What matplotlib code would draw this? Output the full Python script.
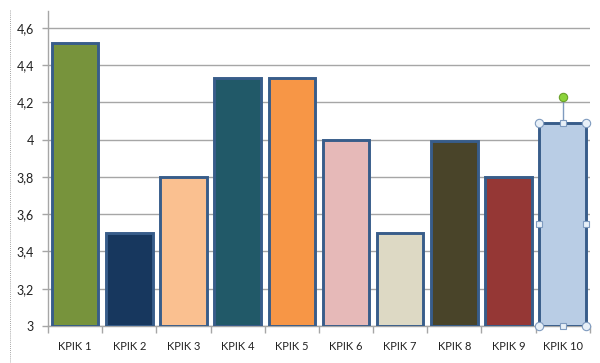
import matplotlib
matplotlib.use("Agg")
import matplotlib.pyplot as plt
from matplotlib.lines import Line2D
import numpy as np

categories = ["KPIK 1", "KPIK 2", "KPIK 3", "KPIK 4", "KPIK 5",
              "KPIK 6", "KPIK 7", "KPIK 8", "KPIK 9", "KPIK 10"]
values = [4.52, 3.5, 3.8, 4.33, 4.33, 4.0, 3.5, 3.99, 3.8, 4.09]
colors = ["#77933C", "#17375E", "#FAC090", "#215968", "#F79646",
          "#E6B9B8", "#DDD9C4", "#494429", "#953735", "#B9CDE5"]
yticks = [3, 3.2, 3.4, 3.6, 3.8, 4, 4.2, 4.4, 4.6]
ytick_labels = ["3", "3,2", "3,4", "3,6", "3,8", "4", "4,2", "4,4", "4,6"]

plt.rcParams['font.family'] = ['Lato', 'DejaVu Sans']

fig = plt.figure(figsize=(6, 3.63), dpi=100)
ax = fig.add_axes([0.08, 0.102, 0.903, 0.868])

x = np.arange(len(categories))
base = 3.0
ax.bar(x, np.array(values) - base, bottom=base, width=0.86, color=colors,
       edgecolor="#385D8A", linewidth=2.1, zorder=3)

ax.set_xlim(-0.5, len(categories) - 0.5)
ax.set_ylim(3.0, 4.69)
ax.set_yticks(yticks)
ax.set_yticklabels(ytick_labels, fontsize=9, color="#222222")
ax.yaxis.grid(True, color="#A6A6A6", linewidth=1.0, zorder=0)
ax.set_axisbelow(True)

ax.set_xticks(x)
ax.set_xticklabels(categories, fontsize=8, color="#222222")
ax.tick_params(axis="x", length=0, pad=11)
ax.set_xticks(np.arange(-0.5, len(categories)), minor=True)
ax.tick_params(axis="x", which="minor", length=5, color="#A6A6A6", width=1)
ax.tick_params(axis="y", length=4, color="#A6A6A6", width=1, pad=6)

for s in ["top", "right"]:
    ax.spines[s].set_visible(False)
for s in ["left", "bottom"]:
    ax.spines[s].set_color("#A6A6A6")
    ax.spines[s].set_linewidth(1.0)

# selection handles on last bar
i = len(categories) - 1
w = 0.86
xl, xr, xc = i - w / 2, i + w / 2, i
top = values[i]
mid = (top + base) / 2
ax.plot([xc, xc], [top, top + 0.13], color="#7F9BBF", lw=1, zorder=4, clip_on=False)
ax.plot([xl, xr, xl, xr], [top, top, base, base], 'o', ms=6, mfc="#E8F0F8",
        mec="#7F9BBF", mew=0.8, zorder=5, clip_on=False)
ax.plot([xc, xc, xl, xr], [top, base, mid, mid], 's', ms=5, mfc="#E8F0F8",
        mec="#7F9BBF", mew=0.8, zorder=5, clip_on=False)
ax.plot([xc], [top + 0.14], 'o', ms=6, mfc="#8CD43A", mec="#6AA02A", mew=0.8,
        zorder=5, clip_on=False)

# dotted frame line at left
fig.add_artist(Line2D([0.016, 0.016], [0.0, 0.975], transform=fig.transFigure,
                      color="#888888", lw=0.6, linestyle=(0, (1, 1.5))))

fig.savefig("out.png", dpi=100)
